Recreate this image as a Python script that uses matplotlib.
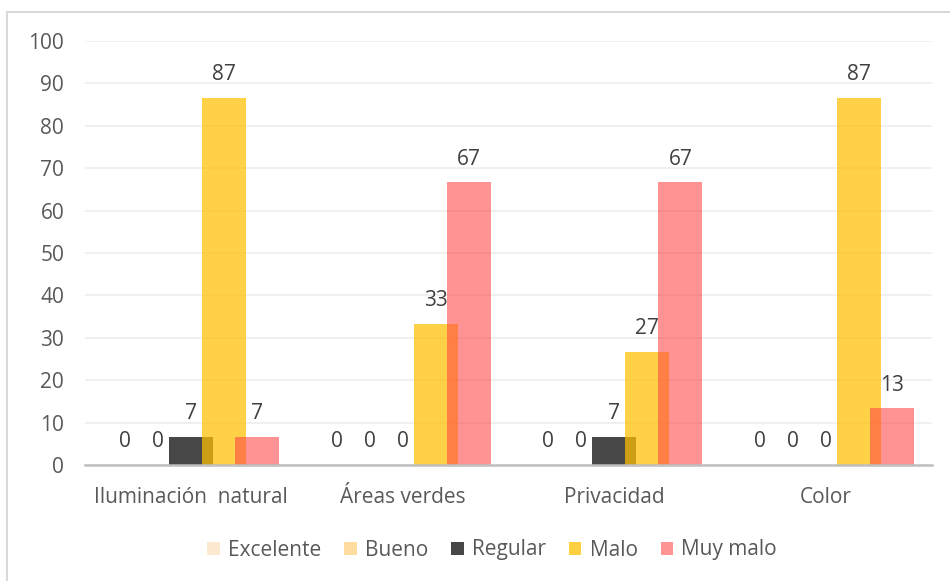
import matplotlib
matplotlib.use("Agg")
import matplotlib.pyplot as plt
from matplotlib.patches import Patch
from matplotlib.lines import Line2D
import numpy as np

categories = ["Iluminación  natural", "Áreas verdes", "Privacidad", "Color"]
series_names = ["Excelente", "Bueno", "Regular", "Malo", "Muy malo"]
excelente = [0, 0, 0, 0]
bueno = [0, 0, 0, 0]
regular = [6.67, 0, 6.67, 0]
malo = [86.67, 33.33, 26.67, 86.67]
muy_malo = [6.67, 66.67, 66.67, 13.33]
yticks = [0, 10, 20, 30, 40, 50, 60, 70, 80, 90, 100]

values = [excelente, bueno, regular, malo, muy_malo]
colors = ["#FDE9D0", "#FFDDA0", "#000000", "#FFC000", "#FF4545"]
alphas = [0.72, 0.72, 0.72, 0.72, 0.58]
legend_colors = ["#FDE9D0", "#FFDDA0", "#474747", "#FFD040", "#FF9494"]

plt.rcParams['font.family'] = ['Open Sans', 'DejaVu Sans']

fig = plt.figure(figsize=(9.5, 5.81), dpi=100)
ax = fig.add_axes([85/950, 1 - 465/581, (932-85)/950, (465-41)/581])

x = np.arange(len(categories))
bw = 0.208
step = 0.156
label_color = "#404040"
fs = 15
for i, (name, vals) in enumerate(zip(series_names, values)):
    pos = x + (i - 2) * step
    ax.bar(pos, vals, width=bw, color=colors[i], alpha=alphas[i], zorder=2 + i, linewidth=0)
    for p, v in zip(pos, vals):
        ax.text(p, v + 3.0, f"{v:.0f}", ha="center", va="bottom", fontsize=fs,
                color=label_color, zorder=10)

ax.set_xlim(-0.5, len(categories) - 0.5)
ax.set_ylim(0, 100)
ax.set_yticks(yticks)
ax.yaxis.grid(True, color="#EDEDED", linewidth=1.2, zorder=0)
ax.set_axisbelow(True)
for s in ["top", "right", "left"]:
    ax.spines[s].set_visible(False)
ax.spines["bottom"].set_color("#BFBFBF")
ax.spines["bottom"].set_linewidth(1.8)
ax.spines["bottom"].set_zorder(20)
ax.tick_params(axis="y", length=0, labelsize=fs, labelcolor="#595959", pad=15)
ax.tick_params(axis="x", length=0, labelsize=fs, labelcolor="#595959", pad=16)
ax.set_xticks(x)
ax.set_xticklabels(categories)

handles = [Patch(facecolor=c, edgecolor="none") for c in legend_colors]
leg = fig.legend(handles, series_names, loc="center", bbox_to_anchor=(492/950, 1 - 550/581),
                 ncol=5, frameon=False, fontsize=fs, handlelength=0.6, handleheight=0.6,
                 handletextpad=0.4, columnspacing=1.1)
for t in leg.get_texts():
    t.set_color("#595959")

# outer border (top and left visible)
fig.add_artist(Line2D([7/950, 1], [1 - 12/581, 1 - 12/581], color="#D9D9D9", linewidth=1.5,
                      transform=fig.transFigure))
fig.add_artist(Line2D([7/950, 7/950], [0, 1 - 12/581], color="#D9D9D9", linewidth=1.5,
                      transform=fig.transFigure))

fig.savefig("out.png", dpi=100, facecolor="white")
